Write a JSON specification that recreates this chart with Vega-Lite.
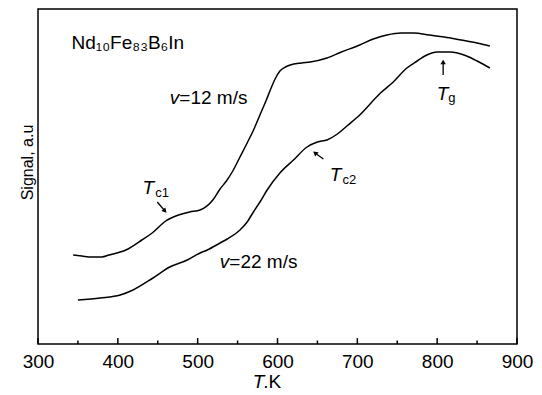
{
  "$schema": "https://vega.github.io/schema/vega-lite/v6.json",
  "width": 479,
  "height": 335,
  "autosize": {"type": "none"},
  "padding": {"left": 38, "top": 9, "right": 25, "bottom": 51},
  "background": "white",
  "config": {
    "view": {"stroke": "black", "strokeWidth": 1.5},
    "font": "Liberation Sans",
    "text": {"font": "Liberation Sans", "color": "black"}
  },
  "datasets": {
    "curves": [
      {"series": "v12", "T": 344, "S": 89}, {"series": "v12", "T": 355, "S": 88}, {"series": "v12", "T": 367, "S": 87},
      {"series": "v12", "T": 380, "S": 87}, {"series": "v12", "T": 389, "S": 89}, {"series": "v12", "T": 410, "S": 94},
      {"series": "v12", "T": 430, "S": 104}, {"series": "v12", "T": 443, "S": 111}, {"series": "v12", "T": 460, "S": 123},
      {"series": "v12", "T": 476, "S": 129}, {"series": "v12", "T": 490, "S": 132}, {"series": "v12", "T": 503, "S": 134},
      {"series": "v12", "T": 519, "S": 144}, {"series": "v12", "T": 528, "S": 155}, {"series": "v12", "T": 536, "S": 163},
      {"series": "v12", "T": 544, "S": 173}, {"series": "v12", "T": 553, "S": 187}, {"series": "v12", "T": 562, "S": 201},
      {"series": "v12", "T": 570, "S": 214}, {"series": "v12", "T": 578, "S": 229}, {"series": "v12", "T": 586, "S": 244},
      {"series": "v12", "T": 591, "S": 254}, {"series": "v12", "T": 597, "S": 265}, {"series": "v12", "T": 603, "S": 273},
      {"series": "v12", "T": 610, "S": 277}, {"series": "v12", "T": 616, "S": 279}, {"series": "v12", "T": 630, "S": 281},
      {"series": "v12", "T": 641, "S": 282}, {"series": "v12", "T": 662, "S": 286}, {"series": "v12", "T": 680, "S": 292},
      {"series": "v12", "T": 703, "S": 299}, {"series": "v12", "T": 720, "S": 305}, {"series": "v12", "T": 737, "S": 309},
      {"series": "v12", "T": 755, "S": 311}, {"series": "v12", "T": 771, "S": 311}, {"series": "v12", "T": 790, "S": 309},
      {"series": "v12", "T": 809, "S": 307}, {"series": "v12", "T": 830, "S": 304}, {"series": "v12", "T": 850, "S": 301},
      {"series": "v12", "T": 866, "S": 298},
      {"series": "v22", "T": 350, "S": 44}, {"series": "v22", "T": 378, "S": 46}, {"series": "v22", "T": 403, "S": 49},
      {"series": "v22", "T": 419, "S": 54}, {"series": "v22", "T": 444, "S": 66}, {"series": "v22", "T": 465, "S": 77},
      {"series": "v22", "T": 487, "S": 84}, {"series": "v22", "T": 503, "S": 91}, {"series": "v22", "T": 512, "S": 94},
      {"series": "v22", "T": 528, "S": 101}, {"series": "v22", "T": 537, "S": 105}, {"series": "v22", "T": 553, "S": 114},
      {"series": "v22", "T": 562, "S": 122}, {"series": "v22", "T": 569, "S": 131}, {"series": "v22", "T": 578, "S": 142},
      {"series": "v22", "T": 587, "S": 154}, {"series": "v22", "T": 603, "S": 171}, {"series": "v22", "T": 620, "S": 184},
      {"series": "v22", "T": 637, "S": 197}, {"series": "v22", "T": 650, "S": 202}, {"series": "v22", "T": 662, "S": 204},
      {"series": "v22", "T": 675, "S": 210}, {"series": "v22", "T": 687, "S": 218}, {"series": "v22", "T": 703, "S": 229},
      {"series": "v22", "T": 729, "S": 251}, {"series": "v22", "T": 745, "S": 262}, {"series": "v22", "T": 762, "S": 276},
      {"series": "v22", "T": 775, "S": 283}, {"series": "v22", "T": 787, "S": 289}, {"series": "v22", "T": 800, "S": 292},
      {"series": "v22", "T": 816, "S": 292}, {"series": "v22", "T": 837, "S": 288}, {"series": "v22", "T": 850, "S": 283},
      {"series": "v22", "T": 866, "S": 276}
    ],
    "labels": [
      {"part": "plain", "T": 342, "S": 301, "text": "Nd₁₀Fe₈₃B₆In"},
      {"part": "italic", "T": 465, "S": 246, "text": "v"},
      {"part": "plain", "T": 477, "S": 246, "text": "=12 m/s"},
      {"part": "italic", "T": 527.7, "S": 82, "text": "v"},
      {"part": "plain", "T": 539.7, "S": 82, "text": "=22 m/s"},
      {"part": "italic", "T": 431, "S": 156, "text": "T"},
      {"part": "sub", "T": 447, "S": 151, "text": "c1"},
      {"part": "italic", "T": 665.5, "S": 169, "text": "T"},
      {"part": "sub", "T": 681.5, "S": 164, "text": "c2"},
      {"part": "italic", "T": 799.6, "S": 250, "text": "T"},
      {"part": "sub", "T": 814, "S": 246, "text": "g"},
      {"part": "italic", "T": 569, "S": -38, "text": "T"},
      {"part": "plain", "T": 582, "S": -38, "text": ".K"}
    ],
    "arrows": [
      {"name": "c1", "T": 449.4, "S": 142, "T2": 459, "S2": 133},
      {"name": "c2", "T": 657.5, "S": 185, "T2": 647, "S2": 191},
      {"name": "g", "T": 807.5, "S": 269, "T2": 807.5, "S2": 282}
    ],
    "ticks": [
      {"T": 300}, {"T": 350}, {"T": 400}, {"T": 450}, {"T": 500}, {"T": 550}, {"T": 600},
      {"T": 650}, {"T": 700}, {"T": 750}, {"T": 800}, {"T": 850}, {"T": 900}
    ]
  },
  "layer": [
    {
      "data": {"name": "curves"},
      "mark": {"type": "line", "color": "black", "strokeWidth": 1.5, "interpolate": "monotone"},
      "encoding": {
        "x": {
          "field": "T", "type": "quantitative",
          "scale": {"domain": [300, 900], "nice": false},
          "axis": {
            "values": [300, 400, 500, 600, 700, 800, 900],
            "title": null,
            "grid": false,
            "domain": false,
            "ticks": false,
            "labelFont": "Liberation Sans", "labelFontSize": 19, "labelColor": "black",
            "labelPadding": 8, "labelFlush": false
          }
        },
        "y": {
          "field": "S", "type": "quantitative",
          "scale": {"domain": [0, 335], "nice": false},
          "axis": {
            "title": "Signal, a.u",
            "titleFont": "Liberation Sans", "titleFontSize": 16, "titleFontWeight": "normal", "titleColor": "black",
            "titlePadding": 3,
            "titleY": 153,
            "labels": false, "ticks": false, "domain": false, "grid": false
          }
        },
        "detail": {"field": "series"}
      }
    },
    {
      "data": {"name": "ticks"},
      "transform": [{"filter": "datum.T % 100 === 0"}],
      "mark": {"type": "rule", "color": "black", "strokeWidth": 1.5},
      "encoding": {
        "x": {"field": "T", "type": "quantitative", "axis": null},
        "y": {"datum": 0, "type": "quantitative", "axis": null},
        "y2": {"datum": 6}
      }
    },
    {
      "data": {"name": "ticks"},
      "transform": [{"filter": "datum.T % 100 !== 0"}],
      "mark": {"type": "rule", "color": "black", "strokeWidth": 1.5},
      "encoding": {
        "x": {"field": "T", "type": "quantitative", "axis": null},
        "y": {"datum": 0, "type": "quantitative", "axis": null},
        "y2": {"datum": 3.5}
      }
    },
    {
      "data": {"name": "labels"},
      "transform": [{"filter": "datum.part === 'plain'"}],
      "mark": {"type": "text", "align": "left", "baseline": "middle", "fontSize": 19},
      "encoding": {
        "x": {"field": "T", "type": "quantitative", "axis": null},
        "y": {"field": "S", "type": "quantitative", "axis": null},
        "text": {"field": "text"}
      }
    },
    {
      "data": {"name": "labels"},
      "transform": [{"filter": "datum.part === 'italic'"}],
      "mark": {"type": "text", "align": "left", "baseline": "middle", "fontSize": 19, "fontStyle": "italic"},
      "encoding": {
        "x": {"field": "T", "type": "quantitative", "axis": null},
        "y": {"field": "S", "type": "quantitative", "axis": null},
        "text": {"field": "text"}
      }
    },
    {
      "data": {"name": "labels"},
      "transform": [{"filter": "datum.part === 'sub'"}],
      "mark": {"type": "text", "align": "left", "baseline": "middle", "fontSize": 13},
      "encoding": {
        "x": {"field": "T", "type": "quantitative", "axis": null},
        "y": {"field": "S", "type": "quantitative", "axis": null},
        "text": {"field": "text"}
      }
    },
    {
      "data": {"name": "arrows"},
      "mark": {"type": "rule", "color": "black", "strokeWidth": 1.3},
      "encoding": {
        "x": {"field": "T", "type": "quantitative", "axis": null},
        "y": {"field": "S", "type": "quantitative", "axis": null},
        "x2": {"field": "T2"},
        "y2": {"field": "S2"}
      }
    },
    {
      "data": {"name": "arrows"},
      "transform": [{"filter": "datum.name === 'c1'"}],
      "mark": {"type": "point", "shape": "triangle-up", "filled": true, "color": "black", "size": 30, "angle": 138, "opacity": 1},
      "encoding": {
        "x": {"field": "T2", "type": "quantitative", "axis": null},
        "y": {"field": "S2", "type": "quantitative", "axis": null}
      }
    },
    {
      "data": {"name": "arrows"},
      "transform": [{"filter": "datum.name === 'c2'"}],
      "mark": {"type": "point", "shape": "triangle-up", "filled": true, "color": "black", "size": 30, "angle": 308, "opacity": 1},
      "encoding": {
        "x": {"field": "T2", "type": "quantitative", "axis": null},
        "y": {"field": "S2", "type": "quantitative", "axis": null}
      }
    },
    {
      "data": {"name": "arrows"},
      "transform": [{"filter": "datum.name === 'g'"}],
      "mark": {"type": "point", "shape": "triangle-up", "filled": true, "color": "black", "size": 30, "angle": 0, "opacity": 1},
      "encoding": {
        "x": {"field": "T2", "type": "quantitative", "axis": null},
        "y": {"field": "S2", "type": "quantitative", "axis": null}
      }
    }
  ],
  "resolve": {"axis": {"x": "independent", "y": "independent"}}
}
